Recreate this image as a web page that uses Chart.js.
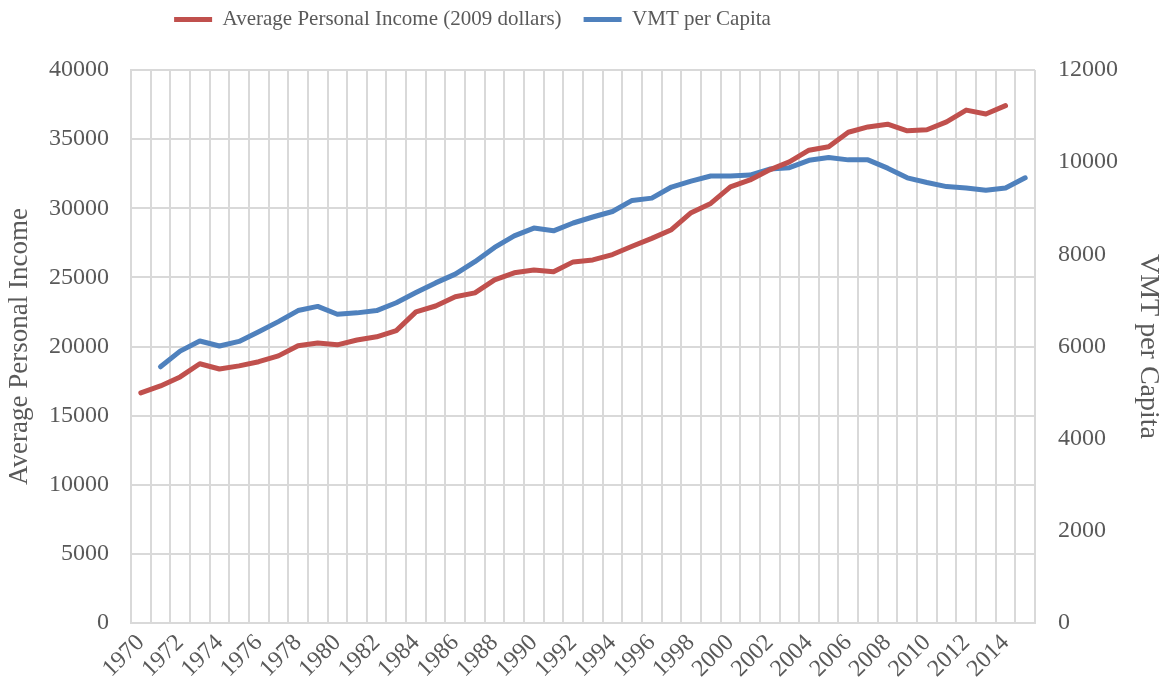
<!DOCTYPE html>
<html>
<head>
<meta charset="utf-8">
<script src="https://cdn.jsdelivr.net/npm/chart.js@4/dist/chart.umd.min.js"></script>
<style>
  body { margin: 0; background: #fff; }
  #wrap { width: 1165px; height: 694px; position: relative; }
</style>
</head>
<body>
<div id="wrap"><canvas id="chart"></canvas></div>
<script>
// años y series
const years = ['1970','1971','1972','1973','1974','1975','1976','1977','1978','1979',
  '1980','1981','1982','1983','1984','1985','1986','1987','1988','1989',
  '1990','1991','1992','1993','1994','1995','1996','1997','1998','1999',
  '2000','2001','2002','2003','2004','2005','2006','2007','2008','2009',
  '2010','2011','2012','2013','2014','2015'];

const income = [16650, 17150, 17800, 18750, 18370, 18600, 18900, 19320, 20050, 20250,
  20120, 20470, 20700, 21150, 22500, 22930, 23600, 23880, 24820, 25330,
  25530, 25400, 26120, 26260, 26650, 27250, 27820, 28450, 29680, 30350,
  31550, 32050, 32780, 33350, 34200, 34450, 35500, 35880, 36080, 35600,
  35680, 36250, 37100, 36820, 37420, null];

const vmt = [null, 5560, 5900, 6120, 6010, 6110, 6320, 6540, 6780, 6870,
  6700, 6730, 6780, 6950, 7170, 7380, 7570, 7840, 8150, 8400,
  8570, 8510, 8680, 8810, 8930, 9170, 9220, 9460, 9590, 9700,
  9700, 9720, 9850, 9880, 10040, 10100, 10050, 10050, 9870, 9660,
  9560, 9470, 9440, 9390, 9440, 9660];

const leftTicks = { min: 0, max: 40000, step: 5000 };
const rightTicks = { min: 0, max: 12000, step: 2000 };

const fuente = 'Liberation Serif';
const gris = '#595959';
const rejilla = '#d9d9d9';

const ctx = document.getElementById('chart').getContext('2d');

// fija la altura de la leyenda (área del gráfico empieza en y=70)
// y la desplaza arriba a la izquierda como en el original
const legendBox = {
  id: 'legendBox',
  beforeInit(chart) {
    const fit = chart.legend.fit;
    chart.legend.fit = function () {
      fit.bind(chart.legend)();
      this.height = 70;
    };
  },
  afterLayout(chart) {
    chart.legend.right -= 220;
    chart.legend.top -= 13;
  }
};

new Chart(ctx, {
  type: 'line',
  data: {
    labels: years,
    datasets: [
      {
        label: 'Average Personal Income (2009 dollars)',
        data: income,
        borderColor: '#c0504d',
        backgroundColor: '#c0504d',
        borderWidth: 5,
        pointRadius: 0,
        borderCapStyle: 'round',
        borderJoinStyle: 'round',
        tension: 0,
        yAxisID: 'y'
      },
      {
        label: 'VMT per Capita',
        data: vmt,
        borderColor: '#4f81bd',
        backgroundColor: '#4f81bd',
        borderWidth: 5,
        pointRadius: 0,
        borderCapStyle: 'round',
        borderJoinStyle: 'round',
        tension: 0,
        yAxisID: 'y1'
      }
    ]
  },
  options: {
    responsive: true,
    maintainAspectRatio: false,
    animation: false,
    layout: { padding: 0 },
    scales: {
      x: {
        offset: true,
        grid: { offset: true, color: rejilla, lineWidth: 2, drawTicks: false },
        border: { color: rejilla, width: 2 },
        ticks: {
          autoSkip: false,
          minRotation: 45,
          maxRotation: 45,
          padding: 6,
          color: gris,
          font: { family: fuente, size: 24 },
          callback: function (value, index) {
            return index % 2 === 0 ? years[index] : '';
          }
        },
        afterFit: function (scale) { scale.height = 71; }
      },
      y: {
        position: 'left',
        min: leftTicks.min,
        max: leftTicks.max,
        grid: { color: rejilla, lineWidth: 2, drawTicks: false },
        border: { color: rejilla, width: 2 },
        ticks: {
          stepSize: leftTicks.step,
          padding: 22,
          color: gris,
          font: { family: fuente, size: 24 },
          callback: function (value) { return String(value); }
        },
        title: {
          display: true,
          text: 'Average Personal Income',
          color: gris,
          font: { family: fuente, size: 27 },
          padding: { top: 4, bottom: 0 }
        },
        afterFit: function (scale) { scale.width = 131; }
      },
      y1: {
        position: 'right',
        min: rightTicks.min,
        max: rightTicks.max,
        grid: { drawOnChartArea: false, drawTicks: false },
        border: { display: false },
        ticks: {
          stepSize: rightTicks.step,
          padding: 23,
          color: gris,
          font: { family: fuente, size: 24 },
          callback: function (value) { return String(value); }
        },
        title: {
          display: true,
          text: 'VMT per Capita',
          color: gris,
          font: { family: fuente, size: 28 },
          padding: { top: 0, bottom: 4 }
        },
        afterFit: function (scale) { scale.width = 130; }
      }
    },
    plugins: {
      legend: {
        position: 'top',
        labels: {
          usePointStyle: true,
          pointStyle: 'line',
          pointStyleWidth: 38,
          padding: 22,
          color: gris,
          font: { family: fuente, size: 21 }
        }
      },
      tooltip: { enabled: false }
    }
  },
  plugins: [legendBox]
});
</script>
</body>
</html>
